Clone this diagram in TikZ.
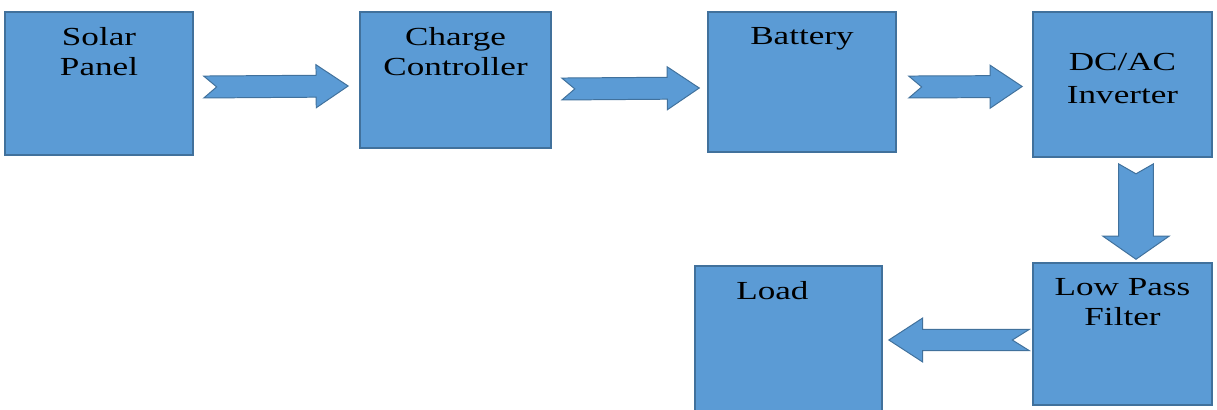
\documentclass[tikz,border=0pt]{standalone}
\usepackage{fontspec}
\setmainfont{Liberation Serif}
\usetikzlibrary{calc}

\definecolor{boxblue}{HTML}{5B9BD5}
\definecolor{boxedge}{HTML}{41719C}

% notched block arrow: start, end, shaft half width, head half width, head length, notch depth
\newcommand{\fatarrow}[6]{%
  \draw[arrowbody] let \p1=(#1), \p2=(#2),
      \n1={atan2(\y2-\y1,\x2-\x1)}, \n2={veclen(\x2-\x1,\y2-\y1)} in
    [shift={(\p1)}, rotate=\n1]
    (0pt,#3) -- ({\n2*1pt-#5},#3) -- ({\n2*1pt-#5},#4) -- ({\n2*1pt},0pt)
    -- ({\n2*1pt-#5},-#4) -- ({\n2*1pt-#5},-#3) -- (0pt,-#3) -- (#6,0pt) -- cycle;}

\tikzset{
  block/.style={draw=boxedge, fill=boxblue, line width=1pt, inner sep=0pt},
  boxtext/.style={font=\fontsize{18.5}{21}\selectfont, align=center, xscale=1.35,
    anchor=north, inner sep=0pt, yshift=-11.5pt},
  arrowbody/.style={draw=boxedge, fill=boxblue, line width=0.7pt, line join=miter}
}

\begin{document}
\begin{tikzpicture}[x=0.025cm,y=-0.025cm]
  \useasboundingbox (0,0) rectangle (1217,409);

  % top row
  \node[block, minimum width=4.70cm, minimum height=3.58cm,
    label={[boxtext]north:{Solar\\Panel}}] (solar) at (99,83.5) {};
  \node[block, minimum width=4.78cm, minimum height=3.40cm,
    label={[boxtext]north:{Charge\\Controller}}] (charge) at (455.5,80) {};
  \node[block, minimum width=4.70cm, minimum height=3.50cm,
    label={[boxtext]north:{Battery}}] (battery) at (802,82) {};
  \node[block, minimum width=4.48cm, minimum height=3.63cm,
    label={[boxtext,font=\fontsize{18.5}{23}\selectfont,yshift=-18.5pt]north:{DC/AC\\Inverter}}] (inverter) at (1122.5,84.5) {};

  % bottom row
  \node[block, minimum width=4.48cm, minimum height=3.55cm,
    label={[boxtext]north:{Low Pass\\Filter}}] (filter) at (1122.5,334) {};
  \node[block, minimum width=4.68cm, minimum height=3.65cm,
    label={[boxtext,xshift=-8.5pt]north:{Load}}] (load) at (788.5,339) {};

  % arrow ends
  \coordinate (a1s) at ($(solar.east)+(10,3.5)$);
  \coordinate (a1e) at ($(charge.west)+(-11,6)$);
  \coordinate (a2s) at ($(charge.east)+(10,9)$);
  \coordinate (a2e) at ($(battery.west)+(-8,6)$);
  \coordinate (a3s) at ($(battery.east)+(12,5)$);
  \coordinate (a3e) at ($(inverter.west)+(-10,2)$);
  \coordinate (a4s) at ($(inverter.south)+(13.5,6)$);
  \coordinate (a4e) at ($(filter.north)+(13.5,-3)$);
  \coordinate (a5s) at ($(filter.west)+(-3,6)$);
  \coordinate (a5e) at ($(load.east)+(6,1)$);

  \fatarrow{a1s}{a1e}{7.8pt}{15.3pt}{22.8pt}{9.2pt}
  \fatarrow{a2s}{a2e}{7.8pt}{15.3pt}{22.8pt}{9.2pt}
  \fatarrow{a3s}{a3e}{7.8pt}{15.3pt}{22.8pt}{9.2pt}
  \fatarrow{a4s}{a4e}{12.4pt}{23.5pt}{16.4pt}{7.1pt}
  \fatarrow{a5s}{a5e}{7.5pt}{15.6pt}{24pt}{12pt}
\end{tikzpicture}
\end{document}
